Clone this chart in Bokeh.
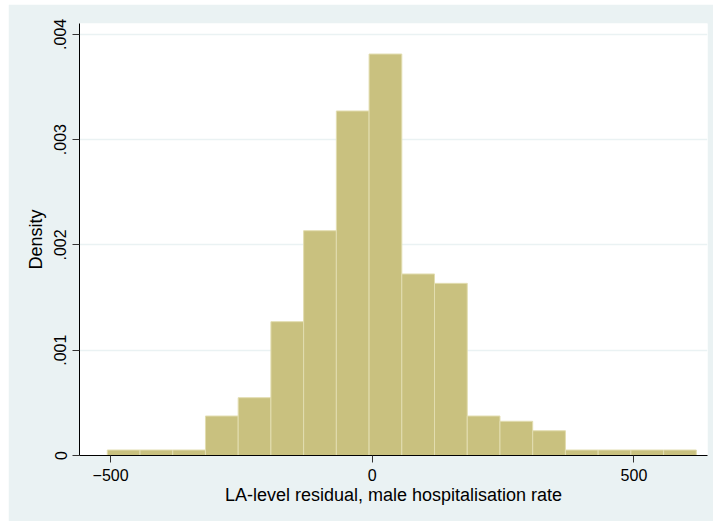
from bokeh.plotting import figure
from bokeh.models import ColumnDataSource, Range1d, Spacer, FixedTicker
from bokeh.layouts import column, row
from bokeh.embed import file_html
from bokeh.resources import INLINE

# Histogram of LA-level residuals (density scale), 18 equal-width bins
bin_start = -506.4
bin_width = 62.53
density = [0.000052, 0.000052, 0.000052, 0.000375, 0.000549, 0.001271,
           0.002135, 0.003272, 0.003813, 0.001724, 0.001635, 0.000375,
           0.000325, 0.000235, 0.000052, 0.000052, 0.000052, 0.000052]

x_ticks = [-500, 0, 500]
y_ticks = [0, 0.001, 0.002, 0.003, 0.004]
y_tick_labels = ["0", ".001", ".002", ".003", ".004"]

left = [bin_start + i * bin_width for i in range(len(density))]
right = [l + bin_width for l in left]
src = ColumnDataSource(dict(left=left, right=right, top=density))

BG = "#EAF2F3"
FONT = "Liberation Sans"

p = figure(width=705, height=517, output_backend="svg", toolbar_location=None,
           x_range=Range1d(-559.5, 640.5), y_range=Range1d(0, 0.004103),
           min_border_left=71, min_border_right=6, min_border_top=19,
           min_border_bottom=66)
p.border_fill_color = BG
p.background_fill_color = "white"
p.outline_line_color = None

p.quad(left="left", right="right", bottom=0, top="top", source=src,
       fill_color="#C9C17F", line_color="#E2DDB0", line_width=1)

p.xgrid.grid_line_color = None
p.ygrid.grid_line_color = BG
p.ygrid.grid_line_width = 1.5

p.xaxis.ticker = FixedTicker(ticks=x_ticks)
p.yaxis.ticker = FixedTicker(ticks=y_ticks)
p.yaxis.major_label_overrides = {t: s for t, s in zip(y_ticks, y_tick_labels)}
p.yaxis.major_label_orientation = "vertical"

for ax in (p.xaxis, p.yaxis):
    ax.axis_line_color = "black"
    ax.axis_line_width = 1
    ax.major_tick_line_color = "#333333"
    ax.major_tick_out = 7
    ax.major_tick_in = 0
    ax.minor_tick_line_color = None
    ax.major_label_text_font = FONT
    ax.major_label_text_font_size = "16px"
    ax.major_label_text_color = "black"
    ax.axis_label_text_font = FONT
    ax.axis_label_text_font_size = "18px"
    ax.axis_label_text_font_style = "normal"
    ax.axis_label_text_color = "black"
    ax.major_label_standoff = 6

p.xaxis.axis_label = "LA-level residual, male hospitalisation rate"
p.yaxis.axis_label = "Density"
p.xaxis.axis_label_standoff = 1
p.yaxis.axis_label_standoff = 6

layout = column(Spacer(height=4), row(Spacer(width=8), p))
open("out.html", "w").write(file_html(layout, INLINE))
